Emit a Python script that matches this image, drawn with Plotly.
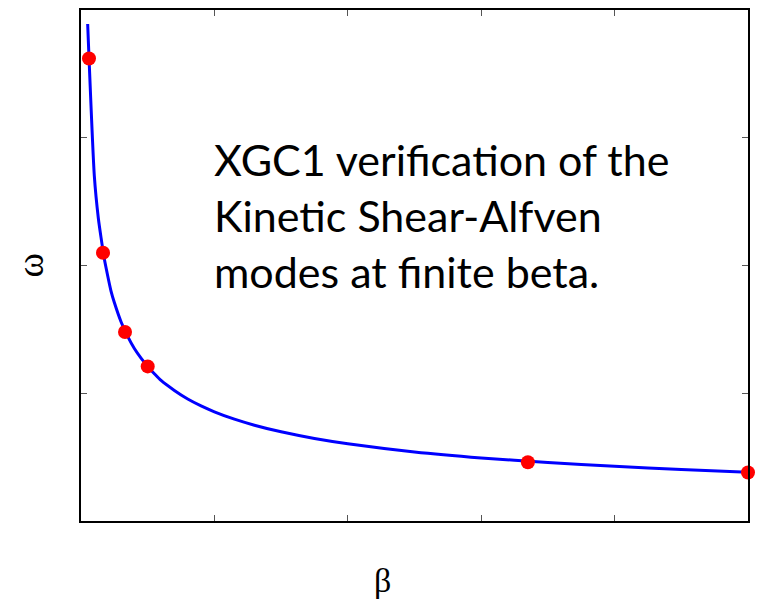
import plotly.graph_objects as go

# Dispersion curve omega(beta) for the kinetic shear-Alfven mode
beta_curve = [0.05, 0.10, 0.13, 0.15, 0.175, 0.20, 0.225, 0.25, 0.30, 0.35, 0.40,
              0.45, 0.50, 0.55, 0.60, 0.70, 0.80, 0.90, 1.00, 1.15, 1.30, 1.50,
              1.75, 2.00, 2.50, 3.00, 3.50, 4.00, 4.50, 5.00]
omega_curve = [3.89, 2.70, 2.37, 2.22, 2.05, 1.92, 1.80, 1.71, 1.56, 1.445, 1.35,
               1.275, 1.21, 1.153, 1.10, 1.022, 0.955, 0.901, 0.855, 0.797, 0.750, 0.698,
               0.646, 0.605, 0.541, 0.494, 0.457, 0.428, 0.403, 0.382]

# XGC1 simulation results
beta_sim = [0.06, 0.165, 0.33, 0.50, 3.35, 5.00]
omega_sim = [3.62, 2.10, 1.48, 1.21, 0.46, 0.38]

x_ticks = [0, 1, 2, 3, 4, 5]
y_ticks = [0, 1, 2, 3, 4]

fig = go.Figure()
fig.add_trace(go.Scatter(x=beta_curve, y=omega_curve, mode="lines",
                         line=dict(color="#0000ff", width=3, shape="spline", smoothing=0.6),
                         showlegend=False))
fig.add_trace(go.Scatter(x=beta_sim, y=omega_sim, mode="markers",
                         marker=dict(color="#ff0000", size=14), showlegend=False,
                         cliponaxis=False))

axis_common = dict(showgrid=False, zeroline=False, showline=True, linecolor="black",
                   linewidth=2, mirror="ticks", ticks="inside", ticklen=6,
                   tickcolor="#555555", tickwidth=1, showticklabels=False)

fig.update_xaxes(range=[0, 5], tickvals=x_ticks, **axis_common)
fig.update_yaxes(range=[0, 4], tickvals=y_ticks, **axis_common)

fig.add_annotation(text="XGC1 verification of the<br>Kinetic Shear-Alfven<br>modes at finite beta.",
                   xref="paper", yref="paper", x=0.196, y=0.598, xanchor="left", yanchor="middle",
                   align="left", showarrow=False,
                   font=dict(family="Lato, Noto Sans, sans-serif", size=43, color="black"))

fig.add_annotation(text="β", xref="paper", yref="paper", x=0.452, y=-0.117,
                   xanchor="center", yanchor="middle", showarrow=False,
                   font=dict(family="Liberation Serif, serif", size=34, color="black"))
fig.add_annotation(text="ω", xref="paper", yref="paper", x=-0.075, y=0.5,
                   xanchor="center", yanchor="middle", showarrow=False, textangle=-90,
                   font=dict(family="Liberation Serif, serif", size=37, color="black"))

fig.update_layout(width=758, height=600, margin=dict(l=81, r=9, t=8, b=79),
                  paper_bgcolor="white", plot_bgcolor="white")

fig.write_html("out.html")
